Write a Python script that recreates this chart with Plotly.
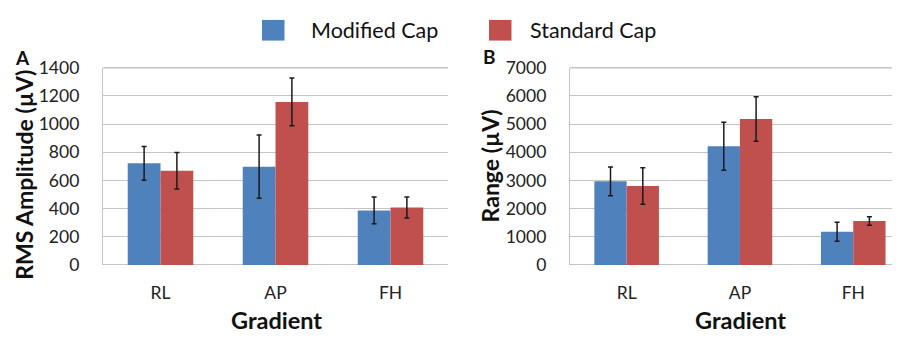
import plotly.graph_objects as go

categories = ["RL", "AP", "FH"]
series_names = ["Modified Cap", "Standard Cap"]

rms_modified = [722, 698, 387]
rms_modified_err = [120, 225, 95]
rms_standard = [669, 1158, 408]
rms_standard_err = [130, 170, 75]

range_modified = [2970, 4215, 1180]
range_modified_err = [510, 855, 335]
range_standard = [2805, 5180, 1560]
range_standard_err = [645, 790, 150]

rms_ticks = [0, 200, 400, 600, 800, 1000, 1200, 1400]
range_ticks = [0, 1000, 2000, 3000, 4000, 5000, 6000, 7000]

BLUE = "#4F81BD"
RED = "#C0504D"
FONT = "Lato"
GRID = "#c4c4c4"
W, H = 900, 343
OFF = 8  # page margin offset of the rendered figure


def px(x):
    return (x - OFF) / W


def py(y):
    return 1 - (y - OFF) / H


fig = go.Figure()


def add_bars(vals, errs, name, color, xa, ya):
    fig.add_trace(go.Bar(
        x=categories, y=vals, name=name, marker_color=color,
        marker_line_width=0, xaxis=xa, yaxis=ya, showlegend=False,
        error_y=dict(type="data", array=errs, visible=True,
                     color="#1a1a1a", thickness=1.5, width=2.5),
    ))


add_bars(rms_modified, rms_modified_err, series_names[0], BLUE, "x", "y")
add_bars(rms_standard, rms_standard_err, series_names[1], RED, "x", "y")
add_bars(range_modified, range_modified_err, series_names[0], BLUE, "x2", "y2")
add_bars(range_standard, range_standard_err, series_names[1], RED, "x2", "y2")

ybot = py(270)
ytop = py(60)

xcommon = dict(showgrid=False, ticks="", tickfont=dict(family=FONT, size=17.5, color="#222"),
               showline=False, ticklabelstandoff=16, zeroline=False)
ycommon = dict(showgrid=True, gridcolor=GRID, gridwidth=1.4, showline=True, linecolor=GRID,
               linewidth=1.4, ticks="", tickfont=dict(family=FONT, size=17.5, color="#222"),
               ticklabelstandoff=19, zeroline=True, zerolinecolor=GRID, zerolinewidth=1.4)

right_end = 1.0
right_range_max = -0.5 + (W * right_end - (570 - OFF)) / 113.3

fig.update_layout(
    width=W, height=H,
    margin=dict(l=0, r=0, t=0, b=0),
    plot_bgcolor="white", paper_bgcolor="white",
    barmode="group", bargap=0.43, bargroupgap=0,
    showlegend=False,
    xaxis=dict(domain=[px(103), px(448)], range=[-0.5, 2.5], anchor="y", **xcommon),
    yaxis=dict(domain=[ybot, ytop], range=[0, 1400], tickvals=rms_ticks, anchor="x", **ycommon),
    xaxis2=dict(domain=[px(570), right_end], range=[-0.5, right_range_max], anchor="y2", **xcommon),
    yaxis2=dict(domain=[ybot, ytop], range=[0, 7000], tickvals=range_ticks, anchor="x2", **ycommon),
)

# top border line of plot areas
for xd in ([px(103), px(448)], [px(570), right_end]):
    fig.add_shape(type="line", xref="paper", yref="paper", x0=xd[0], x1=xd[1], y0=ytop, y1=ytop,
                  line=dict(color=GRID, width=1.4))


def ann(text, x, y, size, bold=False, angle=0, xanchor="center"):
    fig.add_annotation(text=f"<b>{text}</b>" if bold else text, x=px(x), y=py(y),
                       xref="paper", yref="paper", showarrow=False, textangle=angle,
                       xanchor=xanchor, yanchor="middle",
                       font=dict(family=FONT, size=size, color="#111"))


ann("RMS Amplitude (µV)", 24, 174, 23, bold=True, angle=-90)
ann("Range (µV)", 490, 165, 23, bold=True, angle=-90)
ann("Gradient", 276, 329, 23.5, bold=True)
ann("Gradient", 740, 329, 23.5, bold=True)
ann("A", 22, 49, 19, bold=True)
ann("B", 489, 47.5, 19, bold=True)

# legend
for (x0, color, label, tx) in [(262, BLUE, series_names[0], 309), (489, RED, series_names[1], 528)]:
    fig.add_shape(type="rect", xref="paper", yref="paper",
                  x0=px(x0), x1=px(x0 + 22.5), y0=py(31), y1=py(9),
                  fillcolor=color, line_width=0)
    ann(label, tx, 20, 21.5, xanchor="left")

fig.write_html("out.html")
